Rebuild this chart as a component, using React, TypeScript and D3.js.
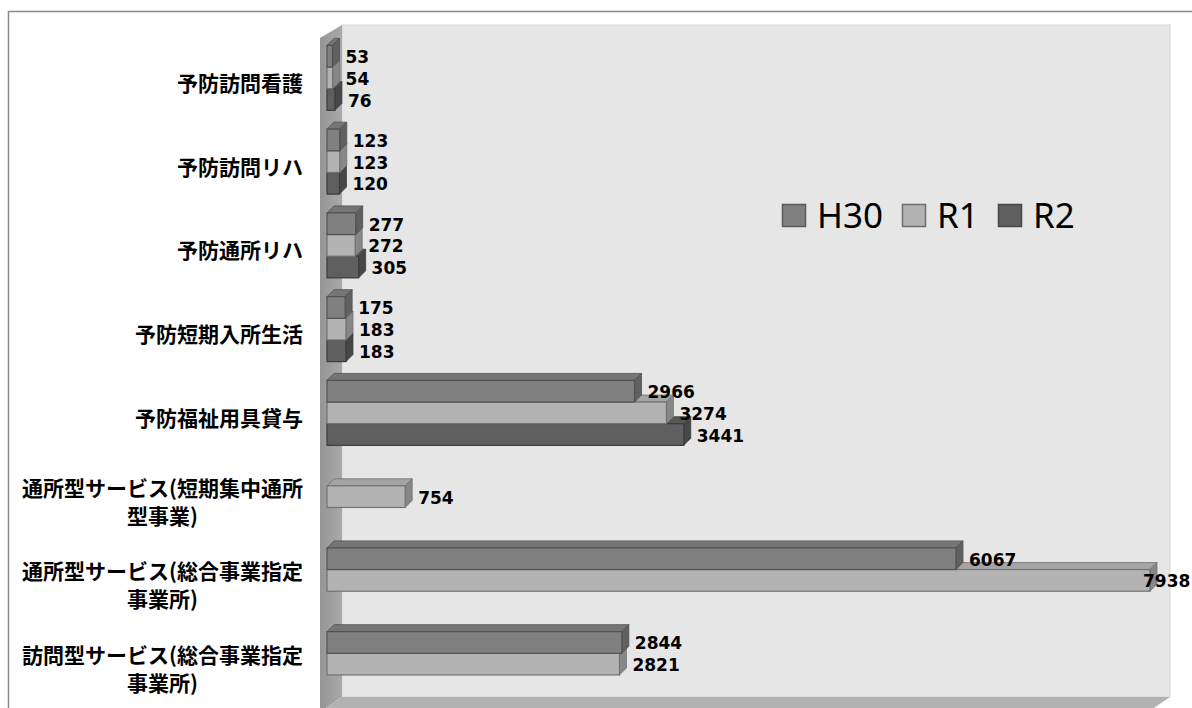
import React from 'react';
import * as d3 from 'd3';

const categories = [
  '予防訪問看護',
  '予防訪問リハ',
  '予防通所リハ',
  '予防短期入所生活',
  '予防福祉用具貸与',
  '通所型サービス(短期集中通所型事業)',
  '通所型サービス(総合事業指定事業所)',
  '訪問型サービス(総合事業指定事業所)',
];
const categoryLines = [
  ['予防訪問看護'],
  ['予防訪問リハ'],
  ['予防通所リハ'],
  ['予防短期入所生活'],
  ['予防福祉用具貸与'],
  ['通所型サービス(短期集中通所', '型事業)'],
  ['通所型サービス(総合事業指定', '事業所)'],
  ['訪問型サービス(総合事業指定', '事業所)'],
];
const seriesNames = ['H30', 'R1', 'R2'];
const h30: (number | null)[] = [53, 123, 277, 175, 2966, null, 6067, 2844];
const r1: (number | null)[] = [54, 123, 272, 183, 3274, 754, 7938, 2821];
const r2: (number | null)[] = [76, 120, 305, 183, 3441, null, null, null];
const seriesValues = [h30, r1, r2];
const seriesColors = ['#808080', '#b3b3b3', '#5f5f5f'];

const W = 1192;
const H = 708;
const DEPTH = 7;
const catFont = '700 21px "Noto Sans CJK JP"';

function measure(text: string): number {
  try {
    const c = document.createElement('canvas').getContext('2d');
    if (c) {
      c.font = catFont;
      return c.measureText(text).width;
    }
  } catch (e) {}
  return text.length * 21;
}

export default function App() {
  const x = d3.scaleLinear().domain([0, 8000]).range([327, 1156.4]);
  const y = d3
    .scaleBand<string>()
    .domain(categories)
    .range([36, 706])
    .paddingInner(0.224)
    .paddingOuter(0.112);
  const inner = d3.scaleBand<string>().domain(seriesNames).range([0, y.bandwidth()]);
  const bh = inner.bandwidth();

  const bars: React.ReactNode[] = [];
  const labels: React.ReactNode[] = [];
  categories.forEach((cat, ci) => {
    for (let si = seriesNames.length - 1; si >= 0; si--) {
      const v = seriesValues[si][ci];
      if (v == null) continue;
      const x0 = x(0);
      const x1 = x(v);
      const y0 = (y(cat) as number) + (inner(seriesNames[si]) as number);
      const y1 = y0 + bh;
      const base = d3.color(seriesColors[si])!;
      const top = base.darker(0.25).formatHex();
      const side = base.darker(0.8).formatHex();
      const stroke = base.darker(1.3).formatHex();
      bars.push(
        <g key={`b-${ci}-${si}`}>
          <polygon
            points={`${x0},${y0} ${x1},${y0} ${x1 + DEPTH},${y0 - DEPTH} ${x0 + DEPTH},${y0 - DEPTH}`}
            fill={top}
            stroke={stroke}
            strokeWidth={0.8}
          />
          <polygon
            points={`${x1},${y0} ${x1 + DEPTH},${y0 - DEPTH} ${x1 + DEPTH},${y1 - DEPTH} ${x1},${y1}`}
            fill={side}
            stroke={stroke}
            strokeWidth={0.8}
          />
          <rect x={x0} y={y0} width={x1 - x0} height={bh} fill={seriesColors[si]} stroke={stroke} strokeWidth={1.2} />
        </g>
      );
      const lx = Math.min(x1 + DEPTH + 6, 1143);
      labels.push(
        <text
          key={`l-${ci}-${si}`}
          x={lx}
          y={(y0 + y1) / 2 + 1}
          dominantBaseline="central"
          fontFamily="DejaVu Sans"
          fontWeight={700}
          fontSize={17}
          fill="#000"
        >
          {v}
        </text>
      );
    }
  });

  const catLabels = categories.map((cat, ci) => {
    const lines = categoryLines[ci];
    const cy = (y(cat) as number) + y.bandwidth() / 2 + 4;
    const lh = 28;
    const right = 303;
    if (lines.length === 1) {
      return (
        <text
          key={cat}
          x={right}
          y={cy}
          textAnchor="end"
          dominantBaseline="central"
          fontFamily='"Noto Sans CJK JP"'
          fontWeight={700}
          fontSize={21}
          fill="#000"
        >
          {lines[0]}
        </text>
      );
    }
    const bw = Math.max(...lines.map(measure));
    const cx = right - bw / 2;
    return (
      <g key={cat}>
        {lines.map((ln, li) => (
          <text
            key={li}
            x={cx}
            y={cy + (li - (lines.length - 1) / 2) * lh}
            textAnchor="middle"
            dominantBaseline="central"
            fontFamily='"Noto Sans CJK JP"'
            fontWeight={700}
            fontSize={21}
            fill="#000"
          >
            {ln}
          </text>
        ))}
      </g>
    );
  });

  const legendX = [782, 902, 998];
  const legendStroke = ['#5a5a5a', '#6e6e6e', '#484848'];

  return (
    <svg
      width={W}
      height={H}
      style={{ position: 'absolute', left: 0, top: 0, background: '#fff' }}
    >
      <defs>
        <linearGradient id="sidewall" x1="0" x2="1" y1="0" y2="0">
          <stop offset="0" stopColor="#959595" />
          <stop offset="1" stopColor="#a9a9a9" />
        </linearGradient>
      </defs>
      <rect x={8.5} y={11.5} width={1300} height={900} fill="#fff" stroke="#8a8a8a" strokeWidth={1.5} />
      {/* back wall */}
      <rect x={342} y={25} width={828} height={672} fill="#e6e6e6" stroke="#d6d6d6" strokeWidth={1} />
      {/* side wall */}
      <polygon points="320,38 342,25 342,697 320,712" fill="url(#sidewall)" />
      {/* floor */}
      <polygon points="342,697 1170,697 1148,712 320,712" fill="#b2b2b2" />
      {bars}
      {labels}
      {catLabels}
      {seriesNames.map((s, i) => (
        <g key={s}>
          <rect x={legendX[i] + 0.5} y={204.5} width={23} height={22} fill={seriesColors[i]} stroke={legendStroke[i]} strokeWidth={1.5} />
          <text x={legendX[i] + 35} y={228} fontFamily='"Noto Sans"' fontSize={35} fill="#000">
            {s}
          </text>
        </g>
      ))}
    </svg>
  );
}
